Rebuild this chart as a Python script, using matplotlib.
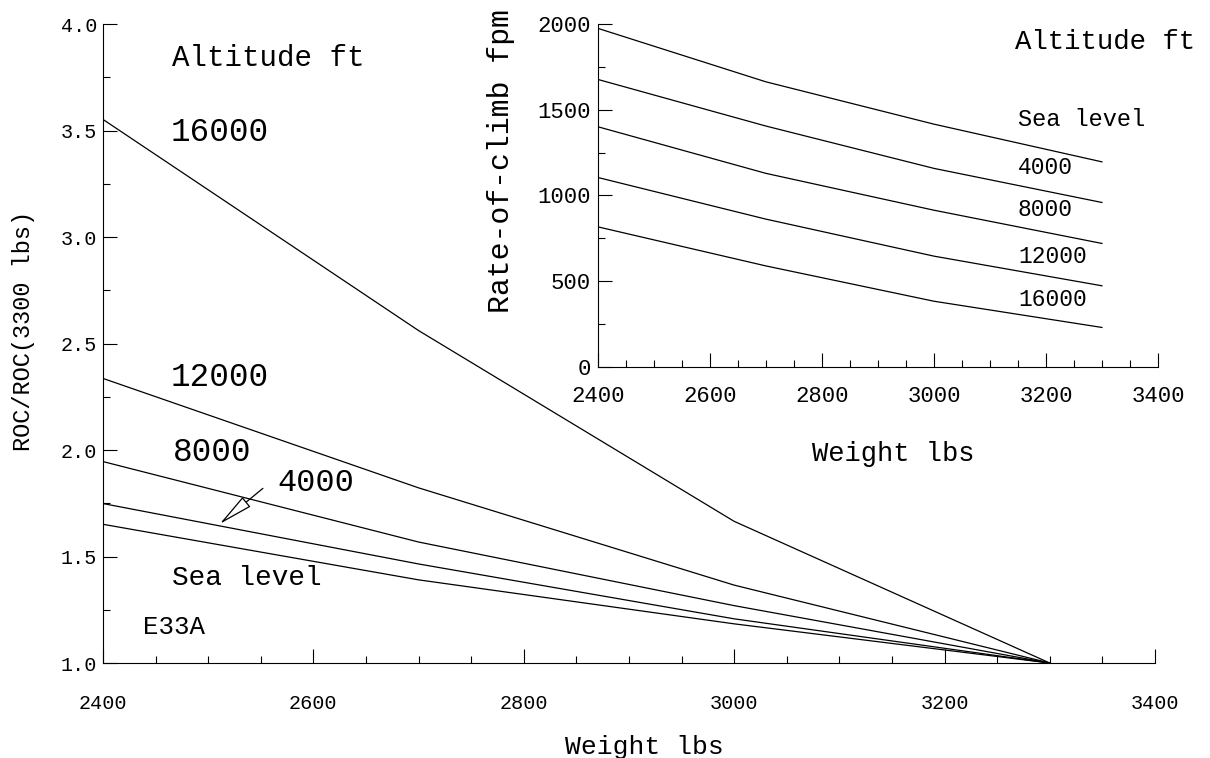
import numpy as np
import matplotlib.pyplot as plt
from matplotlib.ticker import MultipleLocator

plt.rcParams['font.family'] = ['Liberation Mono', 'DejaVu Sans Mono']

# weight points (lbs) and rate of climb (fpm)
weight = [2400, 2700, 3000, 3300]
altitudes = ['Sea level', '4000', '8000', '12000', '16000']
roc_sl = [1975, 1663, 1416, 1196]
roc_4k = [1677, 1405, 1158, 959]
roc_8k = [1401, 1129, 914, 720]
roc_12k = [1105, 862, 646, 473]
roc_16k = [817, 589, 383, 230]
roc_all = [roc_sl, roc_4k, roc_8k, roc_12k, roc_16k]

fig = plt.figure(figsize=(12.1, 7.58), dpi=100)

# main chart: ROC ratio vs the 3300 lbs value
ax = fig.add_axes([0.0851, 0.1253, 0.8694, 0.843])
for roc in roc_all:
    r = np.array(roc) / roc[-1]
    ax.plot(weight, r, color='black', lw=0.9)

ax.set_xlim(2400, 3400)
ax.set_ylim(1.0, 4.0)
ax.xaxis.set_major_locator(MultipleLocator(200))
ax.xaxis.set_minor_locator(MultipleLocator(50))
ax.yaxis.set_major_locator(MultipleLocator(0.5))
ax.yaxis.set_minor_locator(MultipleLocator(0.25))
ax.yaxis.set_major_formatter(plt.FormatStrFormatter('%.1f'))
ax.spines['top'].set_visible(False)
ax.spines['right'].set_visible(False)
ax.tick_params(which='both', direction='in', width=0.8, labelsize=14.5)
ax.tick_params(which='major', length=10)
ax.tick_params(which='minor', length=5)
ax.tick_params(axis='x', pad=22)
ax.tick_params(axis='y', pad=4)
ax.set_xlabel('Weight lbs', fontsize=19)
ax.xaxis.set_label_coords(0.515, -0.112)
ax.set_ylabel('ROC/ROC(3300 lbs)', fontsize=17)
ax.yaxis.set_label_coords(-0.065, 0.52)

ax.text(2466, 3.84, 'Altitude ft', fontsize=21, va='center')
ax.text(2464, 3.49, '16000', fontsize=23.5, va='center')
ax.text(2464, 2.34, '12000', fontsize=23.5, va='center')
ax.text(2466, 1.99, '8000', fontsize=23.5, va='center')
ax.text(2566, 1.845, '4000', fontsize=23, va='center')
ax.text(2466, 1.40, 'Sea level', fontsize=20, va='center')
ax.text(2438, 1.17, 'E33A', fontsize=18.5, va='center')
ax.annotate('', xy=(2511, 1.653), xytext=(2552, 1.82),
            arrowprops=dict(arrowstyle='-|>,head_length=2.2,head_width=0.4',
                            fc='white', ec='black', lw=0.9,
                            shrinkA=0, shrinkB=0))

# inset: rate of climb vs weight
ins = fig.add_axes([0.494, 0.516, 0.463, 0.4523])
for roc in roc_all:
    ins.plot(weight, roc, color='black', lw=0.9)
ins.set_xlim(2400, 3400)
ins.set_ylim(0, 2000)
ins.xaxis.set_major_locator(MultipleLocator(200))
ins.xaxis.set_minor_locator(MultipleLocator(50))
ins.yaxis.set_major_locator(MultipleLocator(500))
ins.yaxis.set_minor_locator(MultipleLocator(250))
ins.spines['top'].set_visible(False)
ins.spines['right'].set_visible(False)
ins.patch.set_alpha(0)
ins.tick_params(which='both', direction='in', width=0.8, labelsize=16)
ins.tick_params(which='major', length=10)
ins.tick_params(which='minor', length=5)
ins.tick_params(axis='x', pad=14)
ins.tick_params(axis='y', pad=5)
ins.set_xlabel('Weight lbs', fontsize=19.5)
ins.xaxis.set_label_coords(0.528, -0.215)
ins.set_ylabel('Rate-of-climb fpm', fontsize=21.5)
ins.yaxis.set_label_coords(-0.148, 0.6)

ins.text(3145, 1897, 'Altitude ft', fontsize=19.7, va='center', clip_on=False)
lab_y = [1442, 1162, 916, 642, 391]
lab_size = [17, 16.5, 16.5, 16.5, 16.5]
for name, yy, fs in zip(altitudes, lab_y, lab_size):
    ins.text(3150, yy, name, fontsize=fs, va='center')

fig.savefig('out.png', dpi=100)
